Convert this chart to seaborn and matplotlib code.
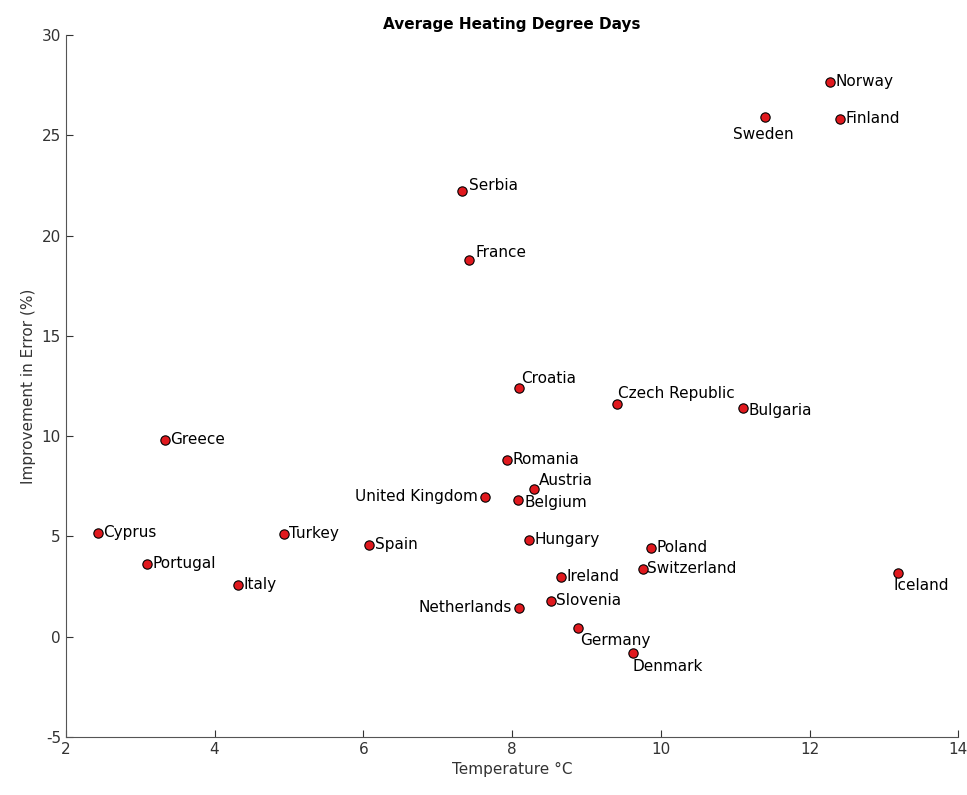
import matplotlib
matplotlib.use("Agg")
import matplotlib.pyplot as plt
import seaborn as sns
import pandas as pd

countries = ["Norway","Sweden","Finland","Serbia","France","Croatia","Czech Republic","Bulgaria",
             "Greece","Romania","Austria","United Kingdom","Belgium","Cyprus","Turkey","Spain",
             "Hungary","Poland","Switzerland","Portugal","Iceland","Ireland","Italy","Slovenia",
             "Netherlands","Germany","Denmark"]
temps = [12.27,11.40,12.41,7.33,7.42,8.09,9.41,11.11,3.33,7.93,8.30,7.64,8.08,2.43,4.93,6.08,
         8.23,9.87,9.76,3.09,13.19,8.66,4.31,8.52,8.09,8.89,9.63]
improv = [27.67,25.92,25.82,22.23,18.79,12.41,11.62,11.42,9.82,8.82,7.38,6.98,6.83,5.18,5.13,4.59,
          4.84,4.44,3.39,3.64,3.19,2.99,2.59,1.79,1.45,0.45,-0.80]

offsets = {"Sweden":(-1,-7,"center"),"Iceland":(17,-9,"center"),"Germany":(27,-9,"center"),
           "Denmark":(25,-10,"center"),"United Kingdom":(-5,0,"right"),"Netherlands":(-5,0,"right"),
           "Croatia":(2,7,"left"),"Czech Republic":(1,7,"left"),"Serbia":(5,4,"left"),
           "France":(5,5,"left"),"Bulgaria":(4,-2,"left"),"Austria":(3,6,"left"),"Belgium":(5,-2,"left"),
           "Switzerland":(3,0,"left")}

plt.rcParams["axes.unicode_minus"] = False
df = pd.DataFrame({"country":countries,"temp":temps,"imp":improv})
fig = plt.figure(figsize=(9.67,7.95), dpi=100)
ax = fig.add_axes([0.068,0.073,0.923,0.883])
sns.scatterplot(data=df, x="temp", y="imp", ax=ax, color="#e0191e", edgecolor="black",
                linewidth=0.8, s=45, zorder=3)
for c,x,y in zip(countries,temps,improv):
    dx,dy,ha = offsets.get(c,(4,0,"left"))
    ax.annotate(c,(x,y),xytext=(dx,dy),textcoords="offset points",ha=ha,
                va="top" if c=="Sweden" else "center",fontsize=11)
ax.set_xlim(2,14); ax.set_ylim(-5,30)
ax.set_xticks(range(2,15,2)); ax.set_yticks(range(-5,31,5))
ax.set_xlabel("Temperature °C", fontsize=11, color="#333333")
ax.set_ylabel("Improvement in Error (%)", fontsize=11, color="#333333")
ax.set_title("Average Heating Degree Days", fontsize=11, fontweight="bold", pad=4)
for s in ["top","right"]:
    ax.spines[s].set_visible(False)
for s in ["left","bottom"]:
    ax.spines[s].set_color("#555555")
ax.tick_params(direction="in", labelsize=11, colors="#333333", length=5)
fig.savefig("out.png", dpi=100)
